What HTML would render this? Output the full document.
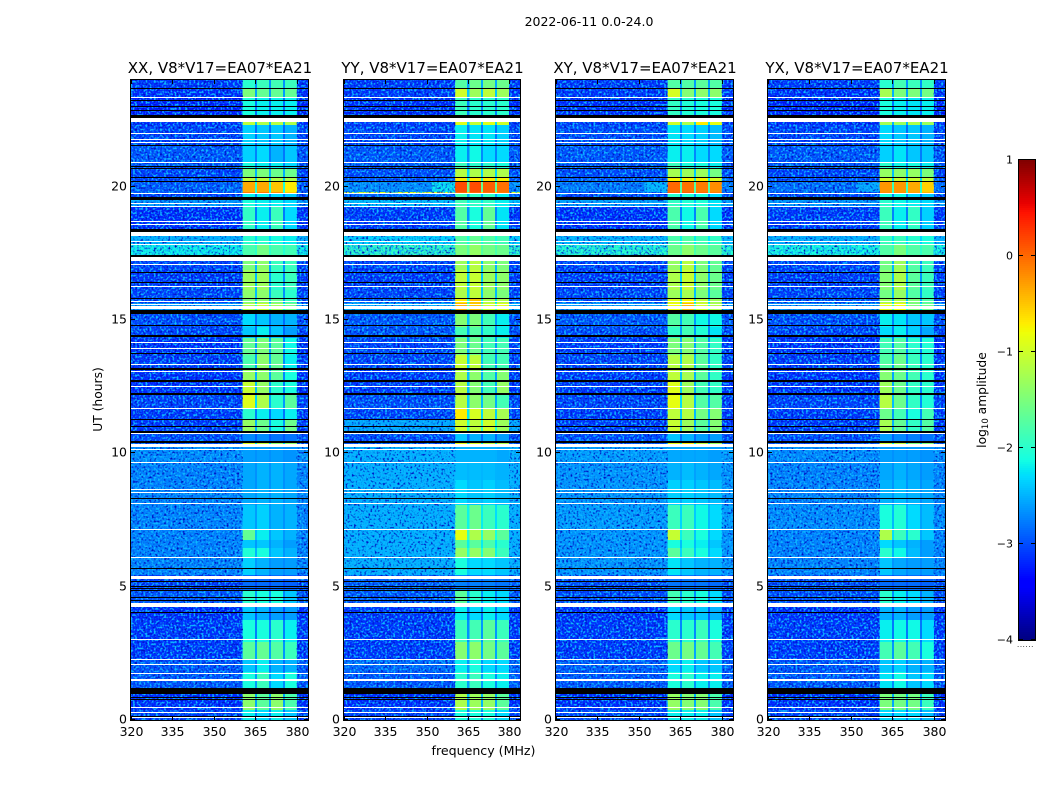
<!DOCTYPE html>
<html lang="en">
<head>
<meta charset="utf-8">
<title>2022-06-11 0.0-24.0</title>
<style>
html,body{margin:0;padding:0;background:#fff;width:1050px;height:800px;overflow:hidden}
svg{display:block}
text{font-family:"DejaVu Sans","Liberation Sans",sans-serif;fill:#000}
</style>
</head>
<body>
<svg id="figure" xmlns="http://www.w3.org/2000/svg" width="1050" height="800" viewBox="0 0 1050 800">
  <defs>
    <filter id="speckle-dark" x="0" y="0" width="1" height="1" color-interpolation-filters="sRGB">
      <feTurbulence type="fractalNoise" baseFrequency="0.48" numOctaves="1" seed="3"/>
      <feColorMatrix type="matrix" values="0 0 0 0 0  0 0 0 0 0.05  0 0 0 0 0.75  4 0 0 0 -2"/>
    </filter>
    <filter id="speckle-light" x="0" y="0" width="1" height="1" color-interpolation-filters="sRGB">
      <feTurbulence type="fractalNoise" baseFrequency="0.48" numOctaves="1" seed="11"/>
      <feColorMatrix type="matrix" values="0 0 0 0 0.05  0 0 0 0 0.72  0 0 0 0 1  0 4.6 0 0 -2.2"/>
    </filter>
  </defs>
  <rect x="0" y="0" width="1050" height="800" fill="#fff"/>
  <text x="589" y="26" font-size="12.5" text-anchor="middle">2022-06-11 0.0-24.0</text>
  <text x="102" y="399.5" font-size="12.3" text-anchor="middle" transform="rotate(-90 102 399.5)">UT (hours)</text>
  <text x="483.5" y="755" font-size="12.6" text-anchor="middle">frequency (MHz)</text>
  <text x="986" y="400" font-size="12.3" text-anchor="middle" transform="rotate(-90 986 400)">log<tspan font-size="8.5" dy="2">10</tspan><tspan dy="-2"> amplitude</tspan></text>
  <text x="1017" y="647" font-size="7" fill="#777" letter-spacing="0.6">......</text>
  <g id="panels"></g>
  <g id="colorbar"></g>
</svg>
<script>
// ---------- data (log10 amplitude, time slots of 2.25 min = 0.0375 h) ----------
const polarisations = ['XX', 'YY', 'XY', 'YX'];
const panelTitles = ['XX, V8*V17=EA07*EA21', 'YY, V8*V17=EA07*EA21', 'XY, V8*V17=EA07*EA21', 'YX, V8*V17=EA07*EA21'];
const freqTicks = [320, 335, 350, 365, 380];
const utTicks = [0, 5, 10, 15, 20];
const colorTicks = [-4, -3, -2, -1, 0, 1];
const colorTickLabels = ['\u22124', '\u22123', '\u22122', '\u22121', '0', '1'];
const freqEdges = [320, 352, 360.4, 364.8, 365.6, 369.9, 370.6, 374.9, 375.6, 380, 384];
const rowStart = [0,10,26,48,60,78,100,115,130,145,162,172,180,190,215,240,258,274,278,288,300,312,325,338,352,365,382,393,407,417,422,430,450,462,465,476,484,491,514,521,526,528,538,542,552,558,574,595,598,604,623,632];
const slotCount = 640;
// flagged time slots: [first slot, number of slots]
const whiteFlags = [[622,1],[598,4],[586,1],[580,1],[577,1],[557,1],[526,1],[516,1],[513,1],[498,1],[495,1],[484,4],[478,1],[475,1],[459,4],[455,1],[433,1],[418,1],[415,1],[411,3],[377,1],[371,1],[355,1],[348,1],[333,1],[311,1],[286,1],[273,3],[270,1],[257,1],[230,1],[227,1],[216,1],[190,1],[162,1],[141,3],[113,4],[80,1],[60,1],[55,1],[46,1],[39,2],[12,1],[7,1],[2,1]];
const blackFlags = [[631,1],[619,1],[613,1],[609,1],[602,3],[574,1],[553,1],[551,1],[542,1],[538,1],[520,3],[488,3],[463,2],[447,1],[437,1],[421,1],[406,4],[394,1],[383,2],[366,1],[350,2],[338,2],[325,2],[300,1],[293,1],[287,2],[277,2],[221,1],[151,1],[138,1],[133,1],[131,1],[129,1],[122,1],[119,1],[107,1],[26,6],[22,1],[20,1],[3,1]];
// each row: [background, sub-band 1, sub-band 2, sub-band 3, sub-band 4]
const levelsXX = [
[-3.1,-2.2,-2.3,-2.2,-2.4],[-3.2,-1.4,-1.7,-1.4,-1.8],[-3.0,-2.1,-1.9,-2.3,-2.1],[-3.0,-2.4,-2.2,-2.5,-2.5],[-3.15,-1.7,-1.65,-1.75,-1.9],
[-3.15,-2.1,-2.1,-2.0,-2.2],[-3.2,-2.4,-2.5,-2.6,-2.6],[-3.0,-2.0,-2.1,-2.1,-2.4],[-3.1,-2.85,-2.85,-2.85,-2.9],[-2.75,-2.35,-2.5,-2.6,-2.6],
[-2.75,-2.05,-2.1,-2.4,-2.5],[-2.75,-2.4,-2.4,-2.5,-2.6],[-2.75,-1.65,-2.2,-2.4,-2.5],[-2.75,-2.4,-2.35,-2.5,-2.5],[-2.75,-2.55,-2.5,-2.5,-2.55],
[-2.75,-2.55,-2.5,-2.5,-2.55],[-2.7,-2.6,-2.6,-2.6,-2.65],[-3.0,-0.9,-1.1,-1.4,-1.4],[-3.05,-2.7,-2.7,-2.8,-2.8],[-3.15,-1.35,-1.6,-2.1,-1.6],
[-3.15,-2.0,-2.2,-2.3,-2.2],[-3.1,-0.9,-1.2,-2.0,-1.7],[-3.2,-1.05,-1.35,-2.0,-2.1],[-3.2,-1.35,-1.4,-1.7,-2.1],[-3.15,-1.8,-1.4,-1.65,-2.2],
[-3.2,-1.65,-1.5,-1.7,-2.15],[-3.1,-2.4,-2.2,-2.4,-2.6],[-3.05,-2.3,-2.4,-2.5,-2.5],[-2.6,-1.2,-1.05,-1.3,-1.6],[-3.1,-1.5,-1.4,-1.6,-1.9],
[-3.1,-1.4,-1.4,-1.9,-2.0],[-3.15,-1.3,-1.3,-2.0,-1.9],[-3.1,-1.5,-1.4,-1.9,-1.9],[-3.1,-1.2,-1.2,-1.3,-1.3],[-2.15,-1.8,-1.55,-1.8,-1.85],
[-2.5,-2.0,-2.0,-2.1,-2.2],[-3.0,-2.0,-2.2,-2.0,-2.3],[-3.2,-1.95,-2.2,-1.9,-2.3],[-2.65,-2.1,-2.2,-2.2,-2.3],[-3.1,-2.2,-2.2,-2.3,-2.4],
[-3.0,-0.1,-0.1,-0.2,-0.5],[-3.0,-0.35,-0.35,-0.5,-0.7],[-3.1,-1.1,-1.1,-1.2,-1.2],[-3.1,-1.5,-1.5,-1.6,-1.6],[-3.0,-2.1,-2.2,-2.2,-2.3],
[-3.0,-2.35,-2.3,-2.5,-2.4],[-3.1,-2.35,-2.4,-2.4,-2.5],[-3.2,-1.1,-1.2,-1.15,-1.2],[-3.2,-2.3,-2.4,-2.4,-2.4],[-3.25,-2.1,-2.2,-2.2,-2.2],
[-3.2,-1.5,-1.65,-1.65,-1.65],[-3.15,-2.0,-1.9,-1.85,-1.9]];
const levelsYY = [
[-3.1,-2.1,-2.1,-2.1,-2.3],[-3.2,-1.2,-1.3,-1.35,-1.7],[-3.0,-2.0,-1.9,-2.1,-2.2],[-2.9,-2.2,-2.1,-2.3,-2.3],[-3.15,-1.45,-1.4,-1.55,-1.7],
[-3.15,-1.9,-1.85,-1.7,-1.9],[-3.15,-2.2,-2.3,-2.2,-2.3],[-3.0,-1.7,-2.0,-2.2,-2.3],[-2.95,-2.75,-2.75,-2.75,-2.8],[-2.5,-2.1,-2.3,-2.3,-2.4],
[-2.5,-1.35,-1.35,-1.45,-1.9],[-2.5,-1.7,-1.7,-1.8,-2.0],[-2.5,-0.85,-1.2,-1.35,-1.7],[-2.5,-1.7,-1.6,-1.9,-2.0],[-2.5,-2.3,-2.4,-2.35,-2.45],
[-2.5,-2.45,-2.45,-2.45,-2.5],[-2.5,-2.5,-2.5,-2.5,-2.55],[-3.0,-0.85,-0.95,-1.1,-1.2],[-3.05,-2.4,-2.5,-2.5,-2.6],[-2.55,-1.0,-1.1,-1.0,-1.3],
[-3.1,-0.7,-0.95,-1.1,-1.25],[-3.05,-1.15,-1.4,-1.55,-1.85],[-3.15,-1.15,-1.45,-1.85,-1.35],[-3.15,-1.2,-1.4,-1.75,-1.45],[-3.1,-1.05,-1.1,-1.85,-1.85],
[-3.1,-1.5,-1.6,-1.85,-1.85],[-3.0,-1.85,-1.75,-1.95,-2.2],[-3.0,-1.45,-1.5,-1.85,-2.2],[-2.5,-0.4,-0.5,-1.0,-0.9],[-3.0,-0.7,-0.5,-1.2,-1.2],
[-3.1,-1.2,-1.1,-1.4,-1.5],[-3.15,-1.1,-1.05,-1.3,-1.4],[-3.1,-1.3,-1.15,-1.4,-1.5],[-3.1,-1.0,-1.0,-1.1,-1.2],[-1.95,-1.5,-1.35,-1.55,-1.6],
[-2.3,-1.75,-1.65,-1.75,-1.85],[-2.9,-1.75,-1.95,-1.85,-2.2],[-3.15,-1.75,-2.1,-1.65,-2.25],[-2.4,-1.85,-1.95,-1.95,-2.2],[-2.9,-1.85,-1.95,-1.95,-2.2],
[-0.9,0.0,0.0,-0.05,-0.1],[-2.7,0.15,0.15,0.05,-0.05],[-3.0,-0.7,-0.7,-0.7,-0.75],[-3.05,-1.15,-1.2,-1.2,-1.2],[-3.0,-1.9,-2.0,-2.0,-2.1],
[-3.0,-2.2,-2.15,-2.3,-2.3],[-3.1,-2.2,-2.25,-2.25,-2.35],[-3.15,-0.9,-1.05,-0.9,-1.0],[-3.15,-2.2,-2.3,-2.3,-2.3],[-3.2,-1.9,-2.0,-2.0,-2.0],
[-3.15,-1.0,-1.3,-1.1,-1.3],[-3.15,-1.75,-1.6,-1.55,-1.6]];
const levelsXY = [
[-3.1,-2.2,-2.2,-2.2,-2.4],[-3.2,-1.35,-1.45,-1.45,-1.8],[-3.0,-2.1,-2.0,-2.2,-2.2],[-2.95,-2.3,-2.2,-2.4,-2.4],[-3.15,-1.6,-1.55,-1.65,-1.85],
[-3.15,-2.0,-2.0,-1.9,-2.1],[-3.2,-2.3,-2.4,-2.4,-2.5],[-3.05,-1.85,-2.0,-2.1,-2.3],[-3.05,-2.8,-2.8,-2.8,-2.85],[-2.65,-2.25,-2.4,-2.5,-2.5],
[-2.65,-1.7,-1.9,-2.1,-2.3],[-2.65,-2.1,-2.1,-2.2,-2.4],[-2.65,-1.05,-1.9,-2.1,-2.3],[-2.6,-1.9,-1.9,-2.15,-2.3],[-2.65,-2.35,-2.35,-2.4,-2.45],
[-2.65,-2.5,-2.45,-2.5,-2.55],[-2.6,-2.55,-2.55,-2.55,-2.6],[-3.0,-0.85,-0.7,-1.1,-1.3],[-3.05,-2.4,-2.5,-2.6,-2.6],[-3.15,-1.05,-1.3,-1.7,-1.45],
[-3.15,-1.1,-1.15,-1.55,-1.45],[-3.1,-0.85,-1.15,-1.75,-1.75],[-3.15,-0.9,-1.3,-1.85,-1.95],[-3.15,-1.1,-1.25,-1.7,-1.95],[-3.1,-1.15,-1.2,-1.7,-1.95],
[-3.15,-1.5,-1.45,-1.75,-1.95],[-3.05,-1.95,-1.85,-2.05,-2.25],[-3.0,-1.75,-1.85,-2.15,-2.15],[-2.6,-0.8,-0.45,-1.0,-1.2],[-3.05,-0.9,-0.75,-1.1,-1.3],
[-3.1,-1.3,-1.25,-1.5,-1.7],[-3.15,-1.2,-1.05,-1.4,-1.6],[-3.1,-1.35,-1.15,-1.5,-1.65],[-3.1,-1.0,-0.95,-1.1,-1.25],[-2.0,-1.6,-1.4,-1.6,-1.7],
[-2.45,-1.8,-1.75,-1.85,-1.95],[-3.0,-1.85,-2.0,-1.95,-2.2],[-3.2,-1.8,-2.15,-1.8,-2.3],[-2.6,-1.95,-2.05,-2.05,-2.25],[-3.05,-2.0,-2.05,-2.1,-2.3],
[-3.0,0.05,0.05,0.0,-0.1],[-2.8,0.0,-0.05,-0.1,-0.2],[-3.0,-0.75,-0.75,-0.75,-0.95],[-3.05,-1.25,-1.3,-1.3,-1.55],[-3.0,-1.9,-2.1,-2.1,-2.2],
[-3.0,-2.2,-2.2,-2.3,-2.3],[-3.05,-2.25,-2.3,-2.35,-2.45],[-3.15,-1.0,-1.2,-0.7,-0.85],[-3.15,-2.2,-2.3,-2.3,-2.35],[-3.2,-1.95,-2.05,-2.1,-2.1],
[-3.15,-0.95,-1.45,-1.4,-1.4],[-3.15,-1.75,-1.75,-1.7,-1.75]];
const levelsYX = [
[-3.1,-2.3,-2.3,-2.3,-2.45],[-3.2,-1.5,-1.55,-1.55,-1.9],[-3.0,-2.25,-2.15,-2.4,-2.3],[-3.0,-2.4,-2.35,-2.5,-2.5],[-3.15,-1.85,-1.7,-1.85,-2.1],
[-3.15,-2.2,-2.15,-2.15,-2.3],[-3.2,-2.5,-2.5,-2.6,-2.6],[-3.05,-2.0,-2.2,-2.3,-2.5],[-3.05,-2.85,-2.85,-2.85,-2.9],[-2.75,-2.4,-2.55,-2.6,-2.6],
[-2.75,-2.0,-2.15,-2.45,-2.6],[-2.75,-2.3,-2.4,-2.5,-2.6],[-2.75,-1.2,-1.9,-2.0,-2.4],[-2.7,-2.1,-2.05,-2.3,-2.45],[-2.75,-2.5,-2.45,-2.5,-2.55],
[-2.75,-2.55,-2.5,-2.55,-2.6],[-2.7,-2.6,-2.6,-2.6,-2.65],[-3.0,-1.0,-1.1,-1.5,-1.5],[-3.05,-2.6,-2.7,-2.75,-2.8],[-3.15,-1.25,-1.65,-1.95,-1.75],
[-3.15,-1.6,-1.85,-2.1,-1.85],[-3.1,-1.15,-1.6,-1.95,-2.05],[-3.2,-1.3,-1.6,-1.95,-2.0],[-3.2,-1.45,-1.6,-1.85,-2.0],[-3.15,-1.75,-1.6,-1.9,-2.0],
[-3.2,-1.85,-1.75,-2.0,-2.05],[-3.1,-2.3,-2.2,-2.35,-2.55],[-3.05,-2.2,-2.25,-2.4,-2.4],[-2.65,-0.85,-0.8,-1.5,-1.6],[-3.05,-1.3,-1.2,-1.5,-1.75],
[-3.1,-1.55,-1.35,-1.75,-1.95],[-3.15,-1.45,-1.2,-1.7,-1.9],[-3.1,-1.55,-1.3,-1.75,-1.9],[-3.1,-1.1,-1.1,-1.3,-1.4],[-2.1,-1.75,-1.5,-1.75,-1.8],
[-2.5,-1.9,-1.9,-2.0,-2.1],[-3.0,-1.95,-2.2,-2.0,-2.3],[-3.15,-1.9,-2.2,-1.95,-2.35],[-2.65,-2.0,-2.15,-2.2,-2.3],[-3.1,-2.1,-2.15,-2.3,-2.4],
[-3.0,-0.2,-0.2,-0.3,-0.4],[-2.9,-0.25,-0.25,-0.35,-0.55],[-3.05,-1.0,-1.05,-1.05,-1.1],[-3.1,-1.35,-1.4,-1.35,-1.5],[-3.0,-2.0,-2.15,-2.1,-2.2],
[-3.0,-2.35,-2.25,-2.4,-2.4],[-3.1,-2.3,-2.4,-2.4,-2.5],[-3.2,-1.25,-1.3,-1.2,-1.3],[-3.2,-2.3,-2.4,-2.4,-2.4],[-3.25,-2.1,-2.2,-2.25,-2.2],
[-3.2,-1.25,-1.5,-1.5,-1.55],[-3.15,-2.0,-1.85,-1.9,-1.95]];
const levelsByPol = [levelsXX, levelsYY, levelsXY, levelsYX];
// background shoulder next to the band during the 19.8-20.2 UT event, per polarisation
const shoulderRow = 41;
const shoulderLevels = [-2.9, -2.2, -2.45, -2.55];

// ---------- layout and axis functions ----------
const SVGNS = 'http://www.w3.org/2000/svg';
const panelLefts = [131, 344, 556, 768];
const panelWidths = [177, 176, 177, 177];
const plotTop = 80;
const plotBottom = 720;
const freqMin = 320, freqMax = 384, utMax = 24;
const colorMin = -4, colorMax = 1;
const cbLeft = 1019, cbRight = 1035, cbTop = 160, cbBottom = 640;
function xScale(p, f) { return panelLefts[p] + (f - freqMin) / (freqMax - freqMin) * panelWidths[p]; }
function slotScale(s) { return plotBottom - s / slotCount * (plotBottom - plotTop); }
function utScale(u) { return plotBottom - u / utMax * (plotBottom - plotTop); }
function colorScaleY(v) { return cbBottom - (v - colorMin) / (colorMax - colorMin) * (cbBottom - cbTop); }
function ramp(v, pts) {
  for (let i = 1; i < pts.length; i++) {
    if (v <= pts[i][0]) {
      const a = pts[i - 1], b = pts[i];
      return a[1] + (b[1] - a[1]) * (v - a[0]) / (b[0] - a[0]);
    }
  }
  return pts[pts.length - 1][1];
}
function jet(level) {
  const v = Math.max(0, Math.min(1, (level - colorMin) / (colorMax - colorMin)));
  const r = ramp(v, [[0, 0], [0.35, 0], [0.66, 1], [0.89, 1], [1, 0.5]]);
  const g = ramp(v, [[0, 0], [0.125, 0], [0.375, 1], [0.64, 1], [0.91, 0], [1, 0]]);
  const b = ramp(v, [[0, 0.5], [0.11, 1], [0.34, 1], [0.65, 0], [1, 0]]);
  return 'rgb(' + Math.round(r * 255) + ',' + Math.round(g * 255) + ',' + Math.round(b * 255) + ')';
}
function el(tag, parent, attrs) {
  const n = document.createElementNS(SVGNS, tag);
  for (const k in attrs) n.setAttribute(k, attrs[k]);
  parent.appendChild(n);
  return n;
}
function segmentLevel(row, seg, polIndex) {
  const lv = levelsByPol[polIndex][row];
  if (seg === 0 || seg === 9) return lv[0];
  if (seg === 1) return row === shoulderRow ? shoulderLevels[polIndex] : lv[0];
  if (seg % 2 === 0) return lv[seg / 2];
  const left = lv[(seg - 1) / 2], right = lv[(seg + 1) / 2];
  return lv[0] * 0.62 + (left + right) / 2 * 0.38;
}

// ---------- draw panels ----------
const panelsGroup = document.getElementById('panels');
polarisations.forEach(function (pol, p) {
  const left = panelLefts[p];
  const width = panelWidths[p];
  const key = pol.toLowerCase();
  const g = el('g', panelsGroup, {});
  
  

  const title = el('text', g, { x: left + width / 2 + 0.5, y: 73, 'font-size': 15, 'text-anchor': 'middle' });
  title.textContent = panelTitles[p];
  
  

  const cells = el('g', g, { 'shape-rendering': 'crispEdges' });
  
  
  rowStart.forEach(function (s0, r) {
    const s1 = r + 1 < rowStart.length ? rowStart[r + 1] : slotCount;
    for (let seg = 0; seg < freqEdges.length - 1; seg++) {
      const x0 = xScale(p, freqEdges[seg]), x1 = xScale(p, freqEdges[seg + 1]);
      const c = el('rect', cells, { x: x0, y: slotScale(s1), width: x1 - x0, height: slotScale(s0) - slotScale(s1), fill: jet(segmentLevel(r, seg, p)) });
      
      
    }
  });

  // receiver-noise speckle over the off-band background
  [[freqEdges[0], freqEdges[2]], [freqEdges[9], freqEdges[10]]].forEach(function (range) {
    ['speckle-dark', 'speckle-light'].forEach(function (id) {
      const sp = el('rect', g, { x: xScale(p, range[0]), y: plotTop, width: xScale(p, range[1]) - xScale(p, range[0]), height: plotBottom - plotTop, fill: '#000', filter: 'url(#' + id + ')' });
      
      
    });
  });

  const flags = el('g', g, { 'shape-rendering': 'crispEdges' });
  
  
  whiteFlags.forEach(function (f) {
    const w = el('rect', flags, { x: left, y: slotScale(f[0] + f[1]), width: width, height: slotScale(f[0]) - slotScale(f[0] + f[1]), fill: '#fff' });
    
    
  });
  blackFlags.forEach(function (f) {
    const b = el('rect', flags, { x: left, y: slotScale(f[0] + f[1]), width: width, height: slotScale(f[0]) - slotScale(f[0] + f[1]), fill: '#000' });
    
    
  });

  const frame = el('rect', g, { x: left - 0.5, y: plotTop - 0.5, width: width + 1, height: plotBottom - plotTop + 1, fill: 'none', stroke: '#000', 'stroke-width': 1, 'shape-rendering': 'crispEdges' });
  
  

  freqTicks.forEach(function (f) {
    const x = Math.round(xScale(p, f)) + 0.5;
    const t1 = el('line', g, { x1: x, x2: x, y1: plotBottom, y2: plotBottom - 4, stroke: '#000' });
    
    
    const t2 = el('line', g, { x1: x, x2: x, y1: plotTop, y2: plotTop + 4, stroke: '#000' });
    
    
    const lab = el('text', g, { x: x, y: 736, 'font-size': 12.5, 'text-anchor': 'middle' });
    lab.textContent = f;
    
    
  });
  utTicks.forEach(function (u) {
    const y = Math.round(utScale(u)) - 0.5;
    const t1 = el('line', g, { x1: left, x2: left + 4, y1: y, y2: y, stroke: '#000' });
    
    
    const t2 = el('line', g, { x1: left + width, x2: left + width - 4, y1: y, y2: y, stroke: '#000' });
    
    
    const lab = el('text', g, { x: left - 4, y: y + 4, 'font-size': 12.5, 'text-anchor': 'end' });
    lab.textContent = u;
    
    
  });
});

// ---------- draw colorbar ----------
const cbGroup = document.getElementById('colorbar');
const cbSteps = 240;
const cbCells = el('g', cbGroup, { 'shape-rendering': 'crispEdges' });
for (let i = 0; i < cbSteps; i++) {
  const v0 = colorMin + (colorMax - colorMin) * i / cbSteps;
  const v1 = colorMin + (colorMax - colorMin) * (i + 1) / cbSteps;
  const c = el('rect', cbCells, { x: cbLeft, y: colorScaleY(v1), width: cbRight - cbLeft, height: colorScaleY(v0) - colorScaleY(v1), fill: jet((v0 + v1) / 2) });
  
  
}
const cbFrame = el('rect', cbGroup, { x: cbLeft - 0.5, y: cbTop - 0.5, width: cbRight - cbLeft + 1, height: cbBottom - cbTop + 1, fill: 'none', stroke: '#000', 'shape-rendering': 'crispEdges' });


colorTicks.forEach(function (v, i) {
  const y = Math.round(colorScaleY(v)) - 0.5;
  const t1 = el('line', cbGroup, { x1: cbLeft, x2: cbLeft + 4, y1: y, y2: y, stroke: '#000' });
  
  
  const t2 = el('line', cbGroup, { x1: cbRight, x2: cbRight - 4, y1: y, y2: y, stroke: '#000' });
  
  
  const lab = el('text', cbGroup, { x: 1013, y: y + 4, 'font-size': 11, 'text-anchor': 'end' });
  lab.textContent = colorTickLabels[i];
  
  
});
</script>
</body>
</html>
